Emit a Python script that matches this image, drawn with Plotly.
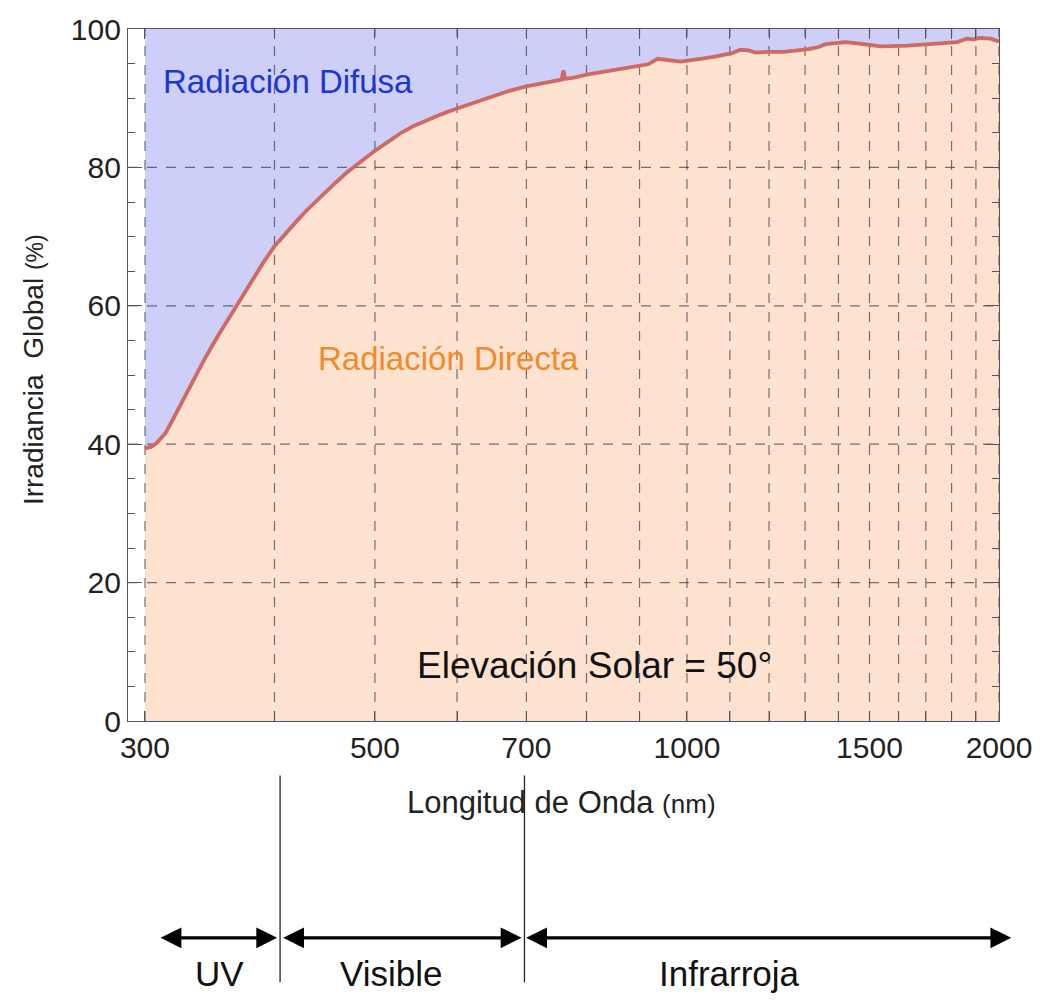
import numpy as np
import plotly.graph_objects as go

# Share of global irradiance that arrives as direct beam (%), solar elevation 50 deg
wavelength_nm = [300, 304, 308, 314, 319, 326, 334, 343, 353, 361, 370, 377, 390, 400,
                 410, 420, 429, 443, 456, 470, 485, 500, 516, 530, 545, 560, 580, 600,
                 625, 650, 675, 700, 725, 750, 757, 760, 763, 780, 800, 830, 860, 900,
                 917, 937, 958, 986, 1030, 1064, 1105, 1126, 1147, 1164, 1200, 1240,
                 1310, 1340, 1360, 1386, 1423, 1467, 1538, 1633, 1736, 1822, 1863, 1890,
                 1918, 1963, 2000]
direct_pct = [39.4, 39.6, 40.2, 41.6, 43.5, 46.2, 49.3, 52.5, 55.7, 58.1, 60.6, 62.8,
              66.2, 68.6, 70.5, 72.2, 73.7, 75.8, 77.5, 79.3, 80.9, 82.4, 83.8, 85.0,
              86.0, 86.8, 87.7, 88.5, 89.4, 90.3, 91.1, 91.7, 92.2, 92.6, 92.7, 94.0,
              92.8, 93.0, 93.4, 93.8, 94.2, 94.7, 94.9, 95.7, 95.5, 95.3, 95.7, 96.0,
              96.5, 97.0, 96.9, 96.6, 96.7, 96.7, 97.1, 97.4, 97.8, 97.9, 98.1, 97.9,
              97.5, 97.6, 97.9, 98.1, 98.6, 98.5, 98.7, 98.6, 98.2]
# global irradiance is the 100 % reference at every wavelength
global_pct = [100.0] * len(wavelength_nm)

# axis ticks
x_tick_nm = list(range(300, 2001, 100))
x_tick_labels = ["300", "500", "700", "1000", "1500", "2000"]
y_tick_vals = [0, 20, 40, 60, 80, 100]
y_grid_vals = [20, 40, 60, 80]

# spectral bands drawn under the axis: arrow ends / borders (nm)
band_edges_nm = [310, 405, 697, 2055]
band_names = ["UV", "Visible", "Infrarroja"]
band_label_nm = [354, 518, 1100]

X_LO, X_HI = 288.9, 2000.0
FONT = "Liberation Sans, Arial, Helvetica, sans-serif"
PEACH = "#fde3cf"
LAVENDER = "#cdcff8"
CURVE = "#cf6963"
GRID = "rgba(35,35,55,0.62)"

W, H = 1044, 1003
M = dict(l=128, r=40, t=22, b=282)
plot_w = W - M["l"] - M["r"]
plot_h = H - M["t"] - M["b"]
BOTTOM = H - M["b"]  # pixel row of the x axis


def xpaper(nm):
    return (np.log10(nm) - np.log10(X_LO)) / (np.log10(X_HI) - np.log10(X_LO))


def ypaper(px):
    return -(px - BOTTOM) / plot_h


fig = go.Figure()

# direct radiation area (below the curve)
fig.add_trace(go.Scatter(x=wavelength_nm, y=direct_pct, mode="lines",
                         line=dict(width=0, color=PEACH), fill="tozeroy",
                         fillcolor=PEACH, hoverinfo="skip", showlegend=False))
# diffuse radiation area (between curve and 100 %)
fig.add_trace(go.Scatter(x=wavelength_nm, y=global_pct, mode="lines",
                         line=dict(width=0, color=LAVENDER), fill="tonexty",
                         fillcolor=LAVENDER, hoverinfo="skip", showlegend=False))

# dashed grid drawn above the filled areas
gx, gy = [], []
for v in x_tick_nm:
    gx += [v, v, None]
    gy += [0, 100, None]
for v in y_grid_vals:
    gx += [X_LO, X_HI, None]
    gy += [v, v, None]
fig.add_trace(go.Scatter(x=gx, y=gy, mode="lines",
                         line=dict(color=GRID, width=1.2, dash="10px,9px"),
                         hoverinfo="skip", showlegend=False))

# direct / global curve
fig.add_trace(go.Scatter(x=wavelength_nm, y=direct_pct, mode="lines",
                         line=dict(color=CURVE, width=3.8), showlegend=False))

fig.update_xaxes(type="log", range=[np.log10(X_LO), np.log10(X_HI)],
                 tickvals=x_tick_nm,
                 ticktext=[str(v) if str(v) in x_tick_labels else "" for v in x_tick_nm],
                 ticks="inside", ticklen=10, tickcolor="#555", tickwidth=1,
                 showline=True, linecolor="#555", linewidth=1.3, mirror="ticks",
                 showgrid=False, zeroline=False,
                 tickfont=dict(family=FONT, size=30, color="#222"))
fig.update_yaxes(range=[0, 100], tickvals=y_tick_vals,
                 ticks="inside", ticklen=14, tickcolor="#555", tickwidth=1,
                 minor=dict(dtick=5, ticks="inside", ticklen=7, tickcolor="#555",
                            showgrid=False),
                 showline=True, linecolor="#555", linewidth=1.3, mirror="ticks",
                 showgrid=False, zeroline=False,
                 tickfont=dict(family=FONT, size=30, color="#222"))

ann = []
# labels inside the chart
ann.append(dict(x=np.log10(412), y=92.4, xref="x", yref="y", showarrow=False,
                xanchor="center", yanchor="middle", text="Radiación Difusa",
                font=dict(family=FONT, size=33, color="#1b36d2")))
ann.append(dict(x=np.log10(589), y=52.4, xref="x", yref="y", showarrow=False,
                xanchor="center", yanchor="middle", text="Radiación Directa",
                font=dict(family=FONT, size=33, color="#f08a2a")))
ann.append(dict(x=np.log10(814), y=8.0, xref="x", yref="y", showarrow=False,
                xanchor="center", yanchor="middle", text="Elevación Solar = 50°",
                font=dict(family=FONT, size=37, color="#111")))

# axis titles
ann.append(dict(x=(33 - M["l"]) / plot_w, y=ypaper(366), xref="paper", yref="paper",
                showarrow=False, textangle=-90, xanchor="center", yanchor="middle",
                text="Irradiancia\u00a0\u00a0Global <span style='font-size:23px'>(%)</span>",
                font=dict(family=FONT, size=28, color="#222")))
ann.append(dict(x=(564 - M["l"]) / plot_w, y=ypaper(803), xref="paper", yref="paper",
                showarrow=False, xanchor="center", yanchor="middle",
                text="Longitud de Onda <span style='font-size:26px'>(nm)</span>",
                font=dict(family=FONT, size=31, color="#222")))

# spectral band arrows and labels
for i, name in enumerate(band_names):
    a = band_edges_nm[i]
    b = band_edges_nm[i + 1]
    pa = xpaper(a) + (0 if i == 0 else 3 / plot_w)
    pb = xpaper(b) - (0 if i == len(band_names) - 1 else 3 / plot_w)
    ann.append(dict(x=pb, y=ypaper(940), xref="paper", yref="paper",
                    ax=(pa - pb) * plot_w, ay=0, axref="pixel", ayref="pixel",
                    text="", showarrow=True, arrowhead=2, arrowside="end+start",
                    arrowsize=1.3, arrowwidth=3.2, arrowcolor="#000",
                    standoff=0, startstandoff=0))
    ann.append(dict(x=xpaper(band_label_nm[i]), y=ypaper(976), xref="paper",
                    yref="paper", showarrow=False, text=name,
                    xanchor="center", yanchor="middle",
                    font=dict(family=FONT, size=35, color="#111")))

shapes = []
for nm in band_edges_nm[1:-1]:
    shapes.append(dict(type="line", xref="paper", yref="paper",
                       x0=xpaper(nm), x1=xpaper(nm),
                       y0=ypaper(776), y1=ypaper(985),
                       line=dict(color="#222", width=1.3), layer="above"))

fig.update_layout(width=W, height=H, margin=M,
                  paper_bgcolor="white", plot_bgcolor="white",
                  annotations=ann, shapes=shapes, showlegend=False)

fig.write_html("out.html")
